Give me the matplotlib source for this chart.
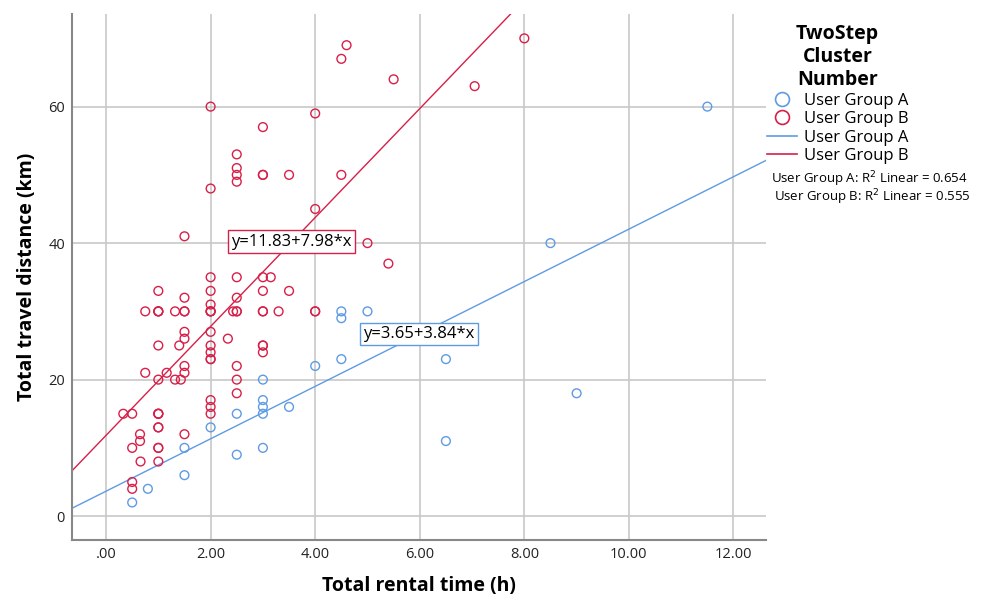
import numpy as np
import matplotlib
matplotlib.use("Agg")
import matplotlib.pyplot as plt
from matplotlib.lines import Line2D

# rental time (h), travel distance (km)
a_time = [0.5, 0.8, 1.5, 1.5, 2, 2.5, 2.5, 3, 3, 3, 3, 3, 3.5, 4, 4.5, 4.5, 4.5,
          5, 6.5, 6.5, 8.5, 9, 11.5]
a_dist = [2, 4, 6, 10, 13, 9, 15, 10, 15, 16, 17, 20, 16, 22, 23, 29, 30,
          30, 23, 11, 40, 18, 60]

b_time = [0.33, 0.5, 0.5, 0.5, 0.5, 0.65, 0.65, 0.66, 0.75, 0.75,
          1, 1, 1, 1, 1, 1, 1, 1, 1, 1, 1, 1, 1, 1,
          1.16, 1.32, 1.32, 1.4, 1.43, 1.5, 1.5, 1.5, 1.5, 1.5, 1.5, 1.5, 1.5, 1.5,
          2, 2, 2, 2, 2, 2, 2, 2, 2, 2, 2, 2, 2, 2, 2, 2,
          2.33, 2.43, 2.5, 2.5, 2.5, 2.5, 2.5, 2.5, 2.5, 2.5, 2.5, 2.5, 2.5,
          3, 3, 3, 3, 3, 3, 3, 3, 3, 3, 3.15, 3.3, 3.5, 3.5,
          4, 4, 4, 4, 4.5, 4.5, 4.6, 5, 5.4, 5.5, 7.05, 8]
b_dist = [15, 15, 10, 5, 4, 12, 11, 8, 30, 21,
          33, 30, 30, 25, 20, 15, 15, 13, 13, 10, 10, 8, 30, 15,
          21, 30, 20, 25, 20, 41, 32, 30, 27, 26, 22, 21, 12, 30,
          60, 48, 35, 33, 31, 30, 30, 27, 25, 24, 23, 23, 17, 16, 15, 30,
          26, 30, 53, 51, 50, 49, 35, 32, 30, 22, 20, 18, 30,
          57, 50, 50, 35, 33, 30, 30, 25, 25, 24, 35, 30, 50, 33,
          59, 45, 30, 30, 50, 67, 69, 40, 37, 64, 63, 70]

fit_a = (3.65, 3.84)
fit_b = (11.83, 7.98)
r2_a = 0.654
r2_b = 0.555

blue = '#5E9BE3'
red = '#D81F48'

plt.rcParams['font.family'] = ['Open Sans', 'DejaVu Sans']

fig = plt.figure(figsize=(9.87, 6), dpi=100)
ax = fig.add_axes([0.073, 0.1, 0.703, 0.877])

ax.set_xlim(-0.65, 12.62)
ax.set_ylim(-3.5, 73.6)

ax.scatter(a_time, a_dist, s=40, facecolors='none', edgecolors=blue, linewidths=1.0, zorder=3)
ax.scatter(b_time, b_dist, s=40, facecolors='none', edgecolors=red, linewidths=1.0, zorder=3)

xx = np.array(ax.get_xlim())
ax.plot(xx, fit_a[0] + fit_a[1] * xx, color=blue, lw=1.0, zorder=2)
ax.plot(xx, fit_b[0] + fit_b[1] * xx, color=red, lw=1.0, zorder=2)

ax.text(3.54, 40.2, 'y=%.2f+%.2f*x' % fit_b, fontsize=12, ha='center', va='center', zorder=4,
        bbox=dict(boxstyle='square,pad=0.2', fc='white', ec=red, lw=1))
ax.text(5.98, 26.7, 'y=%.2f+%.2f*x' % fit_a, fontsize=12, ha='center', va='center', zorder=4,
        bbox=dict(boxstyle='square,pad=0.2', fc='white', ec=blue, lw=1))

ax.set_xticks(np.arange(0, 13, 2))
ax.set_xticklabels(['.00'] + ['%.2f' % v for v in np.arange(2, 13, 2)])
ax.set_yticks([0, 20, 40, 60])
ax.tick_params(length=0, labelsize=10.5, pad=5, colors='#222222')
ax.grid(True, color='#c8c8c8', lw=1.2)
ax.set_axisbelow(True)
for s in ['top', 'right']:
    ax.spines[s].set_visible(False)
for s in ['left', 'bottom']:
    ax.spines[s].set_color('#888888')
    ax.spines[s].set_linewidth(1.5)

ax.set_xlabel('Total rental time (h)', fontsize=14, fontweight='bold', labelpad=10)
ax.set_ylabel('Total travel distance (km)', fontsize=14, fontweight='bold', labelpad=8)

handles = [
    Line2D([], [], ls='none', marker='o', ms=10, mfc='none', mec=blue, mew=1.2),
    Line2D([], [], ls='none', marker='o', ms=10, mfc='none', mec=red, mew=1.2),
    Line2D([], [], color=blue, lw=1.2),
    Line2D([], [], color=red, lw=1.2),
]
labels = ['User Group A', 'User Group B', 'User Group A', 'User Group B']
leg = fig.legend(handles, labels, loc='upper left', bbox_to_anchor=(0.762, 0.985),
                 frameon=False, fontsize=12, handlelength=1.8, handletextpad=0.4,
                 labelspacing=0.15, title='TwoStep\nCluster\nNumber',
                 title_fontproperties={'weight': 'bold', 'size': 14})
leg.get_title().set_multialignment('center')
leg._legend_box.align = 'center'

fig.text(0.881, 0.701, 'User Group A: R$^2$ Linear = %.3f' % r2_a, fontsize=9.5, ha='center', va='center')
fig.text(0.884, 0.671, 'User Group B: R$^2$ Linear = %.3f' % r2_b, fontsize=9.5, ha='center', va='center')

fig.savefig('out.png', dpi=100)
